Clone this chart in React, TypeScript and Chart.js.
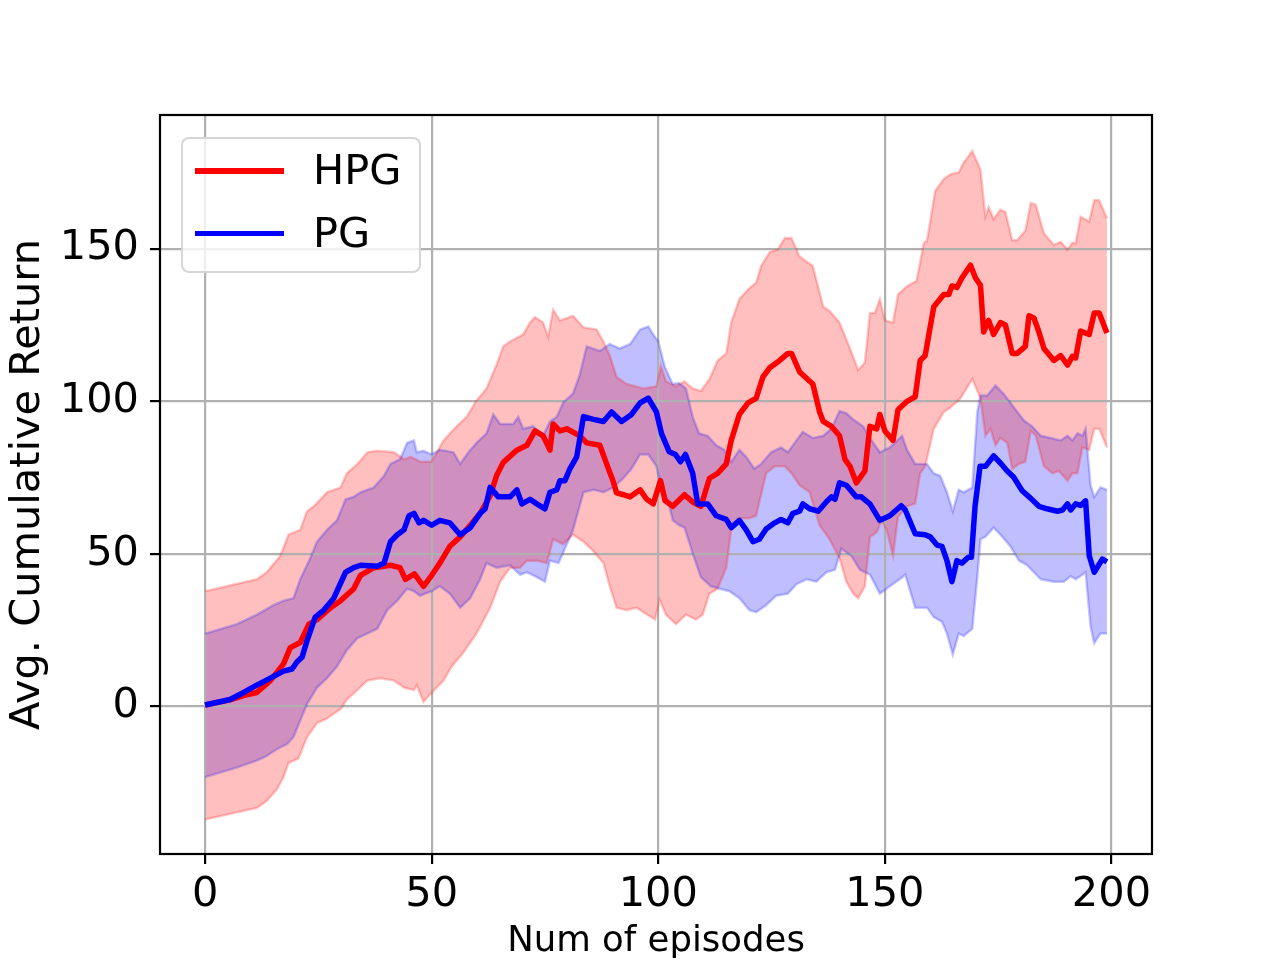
import React, { useEffect, useRef } from "react";
import { Chart, registerables } from "chart.js";

Chart.register(...registerables);

// [episode, avg. cumulative return]
const hpgMean: [number, number][] = [
  [0, 0.5], [5.5, 2.2], [8.5, 3.6], [11.4, 4.6], [14.4, 8.5], [17.3, 14], [18.8, 19.3], [21, 21],
  [22.9, 27], [24.7, 28.5], [27.7, 32.4], [29.9, 34.7], [32.8, 38.6], [34.3, 43], [37.2, 45.5],
  [40.9, 46.3], [43, 45.5], [44.2, 41.7], [46.2, 43.5], [48.2, 39.4], [50, 43], [51.8, 47], [54, 52.5],
  [56.3, 55.6], [58.5, 59.4], [60.7, 63.3], [62.9, 69], [64.3, 75.6], [65.8, 80], [68.8, 84], [71, 85.6],
  [72.8, 90.3], [74.6, 88.7], [76.1, 84], [76.8, 92.6], [78.3, 90.3], [79.8, 91], [82.7, 88.7],
  [84.2, 86.4], [87.1, 85.6], [88.6, 79.5], [90, 74], [90.8, 70], [92.3, 69.4], [93.8, 68.7], [96, 71],
  [97.4, 68], [98.9, 66.4], [100.5, 74], [101.5, 67.5], [103.2, 65.6], [105.8, 69.4], [107.6, 67],
  [109.4, 65.6], [111.3, 74.8], [113.1, 76.4], [115, 79.5], [116.1, 87.2], [117.9, 95.7], [119.8, 99.5],
  [121.6, 101], [123.1, 108], [124.6, 111], [126.8, 113.4], [128.6, 115.7], [129.4, 115.7],
  [131.2, 109.6], [134.1, 105.7], [135.6, 96.5], [136.4, 93.4], [138.2, 91.8], [140, 88.7], [141.2, 81],
  [142.3, 78.7], [143.7, 73.3], [145.6, 77.2], [146.7, 91.8], [148.2, 91], [148.9, 95.7], [150, 90.3],
  [151.8, 87.2], [152.9, 97.2], [154.9, 100], [156.7, 101.5], [157.8, 113.4], [158.9, 115], [160.8, 131],
  [163, 135], [164.1, 135], [164.8, 137.8], [165.9, 137.3], [167, 140.4], [168.9, 144.6], [170, 140.4],
  [171.1, 138], [171.8, 122.7], [172.9, 126.5], [174, 121.9], [175.5, 125.8], [176.6, 125],
  [178.1, 115.7], [179.2, 115.7], [181, 118], [181.8, 128], [182.9, 127.3], [184, 122.7], [185.1, 117.3],
  [187.3, 113.4], [188.8, 115], [190.3, 111.9], [191.4, 114.7], [192.1, 114.2], [193.2, 123],
  [195.1, 121.9], [196.2, 128.9], [197.3, 128.9], [199, 122.4],
];

const hpgHi: [number, number][] = [
  [0, 37.8], [11.4, 41.7], [13.6, 44], [16.6, 49.4], [18.4, 56.3], [21, 57.9], [22.5, 64], [24, 65.6],
  [26.9, 70.2], [29.9, 71.8], [31.3, 76.4], [33.6, 79.5], [35.8, 83.3], [38, 83.8], [41.7, 83.3],
  [43.9, 81], [45.4, 81.8], [47.6, 80.2], [50, 80.2], [52.6, 87.2], [55.5, 91.8], [57.7, 94.9],
  [59.9, 100.3], [62.1, 104.2], [64.3, 111.9], [65.8, 118], [67.3, 119.6], [70.2, 121.9], [71.7, 125.8],
  [72.8, 127.6], [74.6, 125.8], [75.7, 121.1], [76.8, 130], [78.3, 126.5], [81.2, 128], [83.5, 124.2],
  [86.4, 123.5], [87.9, 119.6], [89.3, 115], [90.8, 108], [93, 105.7], [96.7, 104.2], [99.6, 104.9],
  [100.6, 111.5], [101.7, 106.5], [103.9, 104.9], [105.8, 106.5], [107.6, 104.2], [109.4, 103.4],
  [111.3, 107.3], [113.1, 113.4], [115, 115.7], [116.1, 125.8], [117.9, 133.5], [119.8, 136.6],
  [121.6, 138.9], [122.7, 144.3], [124.6, 148.9], [126.4, 149.7], [127.9, 153.5], [129.4, 153.5],
  [131.2, 147.4], [134.1, 144.3], [136.4, 131], [137.8, 129.6], [140, 125.8], [142.3, 117.3],
  [144.1, 110.3], [145.6, 112.7], [146.7, 128.9], [147.8, 128.9], [148.9, 133.5], [150, 126.5],
  [151.8, 125.8], [152.9, 135], [154.8, 137.6], [157, 139.5], [158.6, 151.9], [159.3, 152.6],
  [161.1, 168.9], [163, 172.8], [164.5, 174.4], [166.3, 175], [167.4, 178.2], [169.3, 182],
  [171.1, 175.9], [172.2, 160.5], [172.9, 163.6], [174, 159.7], [175.5, 162.8], [176.6, 162],
  [178.1, 152.8], [179.2, 152.8], [181, 155.9], [182.2, 165], [183.3, 164.4], [185.1, 155],
  [187.3, 151.2], [188.8, 152.3], [190.3, 149.7], [191.4, 152], [192.1, 151.7], [193.2, 160.5],
  [195.1, 158.9], [196.2, 165.9], [197.3, 165.9], [199, 160],
];

const hpgLo: [number, number][] = [
  [0, -37], [11.4, -33.2], [13.6, -30.9], [15.9, -27], [17.3, -23.1], [18.4, -18.5], [20.6, -17],
  [22.5, -10], [24.7, -5.4], [26.9, -3.9], [29.9, -0.8], [31.3, 2.3], [33.6, 5.4], [35.8, 8.5],
  [38.7, 9.3], [41.7, 8.5], [43.9, 6.2], [46.1, 5.4], [46.7, 7], [48.2, 1.5], [50, 4.6], [52.6, 8.5],
  [54.4, 13.1], [57, 17.7], [59.9, 23.9], [62.9, 32.4], [65.1, 40.9], [67.3, 45.5], [69.5, 45.5],
  [71, 47.8], [73.2, 47.8], [75.4, 47], [76.8, 54.8], [79, 53.2], [81.2, 56.3], [83.5, 54], [85.7, 50.9],
  [87.9, 47], [89.3, 39.4], [90.8, 32.4], [93, 31.6], [95.2, 32.4], [96.7, 30.9], [99.3, 28.5],
  [100.3, 35], [101.7, 30.1], [103.9, 27], [106.1, 30.1], [108.3, 28.5], [109.8, 30.1], [111.3, 37],
  [113.1, 38.6], [115, 45.5], [116.1, 57.9], [117.9, 61.7], [120.1, 61.7], [121.6, 62.5], [123.8, 76.4],
  [125.7, 78.7], [127.9, 78.7], [129.4, 76.4], [131.2, 72.5], [133.4, 70.2], [135.6, 59.4],
  [137.8, 54.8], [140, 48.6], [141.5, 40.9], [143, 37], [144.1, 35.5], [145.6, 39.4], [146.7, 55.6],
  [148.2, 57.1], [149.3, 61], [150.4, 57.9], [151.8, 49.4], [152.9, 62], [154.8, 65.6], [156.7, 66.5],
  [157.8, 76.4], [158.9, 78.7], [160.8, 91], [163, 96.5], [164.5, 98], [166.7, 101], [169.3, 107.3],
  [171.1, 101], [172.2, 88.7], [173.3, 91], [174.4, 85.6], [175.5, 88], [177, 86.4], [178.1, 77.9],
  [179.6, 79.5], [181, 80.2], [182.2, 90.3], [183.3, 88.7], [185.1, 78.7], [187, 76.4], [188.4, 77.2],
  [190.3, 74], [191.4, 76.4], [192.5, 76.4], [193.6, 84.9], [195.1, 84.1], [196.2, 91], [197.3, 91],
  [199, 84.9],
];

const pgMean: [number, number][] = [
  [0, 0.5], [5.5, 2.3], [8.5, 4.6], [11.4, 7], [14.4, 9.3], [17.3, 11.6], [19.2, 12.3], [20.3, 14.7],
  [21.4, 16.2], [22.5, 21.6], [24.3, 29.3], [26.2, 31.6], [28.4, 35.5], [31, 44], [32.8, 45.5],
  [34.3, 46.3], [38, 46], [39.5, 47], [40.9, 54], [42.4, 56.3], [43.9, 57.9], [45, 62.5], [46.1, 63.3],
  [47.2, 60.2], [48.2, 61], [50, 59.4], [51.8, 61], [54, 60.2], [56.3, 56.3], [58.5, 58.6], [60.7, 63.3],
  [61.8, 64.8], [62.9, 71.8], [64.7, 68.7], [67.3, 68.7], [68.8, 71], [69.9, 66.4], [71.7, 67.9],
  [73.2, 66.4], [75, 64.8], [76.1, 70.2], [77.6, 71], [78.3, 74], [79.4, 74], [80.5, 77.9], [82, 81.8],
  [83.5, 95], [85.7, 94.1], [87.9, 93.4], [89.7, 96.5], [91.9, 93.4], [94.1, 95.7], [96, 99.5],
  [97.8, 101], [99.6, 96.5], [100.7, 89.5], [102.4, 83.5], [103.8, 82.6], [104.9, 80.2], [106, 82.6],
  [107.6, 76.4], [108.7, 66.4], [110.9, 66.4], [112.8, 62.5], [115, 61.3], [116.1, 58.6], [117.9, 61],
  [119.4, 57.9], [120.9, 54], [122.3, 54.8], [123.8, 58.2], [125.7, 60.2], [127.1, 61.3], [128.6, 60.2],
  [129.7, 63.3], [131.2, 64], [131.9, 66.4], [133.4, 64.8], [135.3, 64], [137.1, 67.1], [138.2, 68.7],
  [139, 67.9], [140, 73.3], [141.5, 72.5], [143.7, 68.7], [144.8, 68.7], [146.7, 66.4], [148.9, 61],
  [151.1, 62.5], [153.6, 65.8], [154.5, 64.4], [156.7, 56.6], [158.9, 56.3], [160, 55.6], [161.5, 52.9],
  [162.6, 52.5], [163.7, 47.8], [164.8, 40.9], [165.9, 47.8], [167, 47], [168.4, 48.9], [169.1, 48.9],
  [169.9, 65.6], [171, 78.7], [172.2, 78.7], [174, 82.1], [175.5, 79.8], [177, 77.2], [178.4, 75.2],
  [180.3, 70.7], [182.2, 68.2], [184, 65.6], [185.8, 64.8], [188.1, 64], [189.2, 64.4], [190.3, 66.4],
  [191, 64.4], [192.1, 66.4], [193.2, 65.9], [194.3, 67.4], [195.1, 49.4], [196.2, 44], [198, 48.3],
  [199, 47.4],
];

const pgHi: [number, number][] = [
  [0, 23.9], [7, 27], [11.4, 30.1], [15.1, 33.2], [17.3, 34.7], [19.5, 35.5], [21, 41.7], [23.2, 48.6],
  [24.7, 54], [26.9, 57.9], [29.1, 61], [31, 67.9], [32.8, 68.7], [34.3, 70.2], [37.2, 71.8],
  [39.5, 75.6], [40.9, 79.5], [43, 81], [44.6, 86.4], [46.1, 87.2], [46.7, 83.3], [48.2, 83.8],
  [50, 82.6], [51.8, 84.1], [54.8, 83.3], [56.3, 79.5], [58.1, 83.3], [59.9, 86.4], [62.1, 89.5],
  [63.6, 95.7], [65.1, 92.6], [68, 92.6], [69.1, 94.9], [70.2, 91], [72.4, 91.8], [74.6, 88.7],
  [76.1, 93.4], [77.6, 94.9], [79, 99.5], [81.2, 102.6], [82.7, 108.8], [84.2, 118], [87.1, 116.5],
  [89.3, 118.8], [91.5, 117.3], [93.8, 118.8], [96, 123.5], [97.8, 124.5], [98.9, 121.9], [100, 119.6],
  [101.5, 111], [103.2, 105.7], [104.6, 106], [106.1, 104.2], [107.6, 94.9], [109, 89.5], [110.9, 88.7],
  [112.8, 85.6], [114.6, 84.1], [116.1, 80.2], [117.9, 84.1], [119.4, 81.8], [121.2, 77.9],
  [122.7, 79.5], [124.9, 83.3], [127.1, 84.9], [128.6, 83.3], [130.5, 87.2], [131.9, 90], [134.1, 88],
  [136.4, 88.7], [138.2, 91], [140, 96.8], [141.5, 96.1], [143, 94.1], [145.2, 91.8], [146.7, 88],
  [148.9, 83.3], [151.1, 84.9], [153.8, 88.7], [154.9, 84.1], [156.7, 79.5], [159.3, 79.5],
  [160.8, 76.4], [162.2, 75.6], [163.7, 70.2], [165, 64], [166.3, 71], [167.4, 70.2], [169.3, 71.8],
  [170.4, 96.5], [171.1, 101.9], [172.6, 101.9], [174.4, 105.2], [176.3, 102.3], [178.5, 98],
  [180.7, 93.7], [182.5, 91.8], [184.4, 88.7], [186.6, 88], [188.8, 87.2], [190.3, 88.7], [191.4, 87.2],
  [192.5, 89.5], [193.6, 88.7], [194.3, 91], [195.4, 72.5], [196.2, 68.7], [197.6, 71.8], [199, 71],
];

const pgLo: [number, number][] = [
  [0, -23.1], [7, -20], [11.4, -17.7], [13.6, -16.2], [15.9, -13.9], [18.1, -12.3], [19.5, -10],
  [21, -4.6], [22.5, 0.8], [24.7, 6.2], [26.9, 9.3], [29.1, 13.1], [31.3, 18.5], [33.6, 22.4],
  [35.8, 23.9], [38, 25.5], [40.2, 31.6], [42.4, 34.7], [44.6, 38.6], [46.1, 37.8], [47.4, 36.3],
  [50, 37.8], [51.8, 39.4], [54, 37], [56.3, 32.4], [58.5, 35.5], [60.7, 41.7], [62.1, 47], [64.3, 45.5],
  [67.3, 46.3], [69.5, 43.2], [71, 44], [73.2, 42.4], [75, 40.9], [76.1, 47.8], [78, 47], [79.4, 51.7],
  [81.2, 57.9], [83.5, 70.2], [85.7, 71], [87.9, 70.2], [90.1, 71.8], [92.3, 74.8], [94.1, 77.9],
  [96, 82.6], [97.8, 82.6], [99.6, 78.7], [100.7, 71.5], [102.2, 67.1], [103.2, 61], [104.6, 59.4],
  [105.8, 58.6], [107.6, 50.2], [109.4, 42.4], [111.6, 39.4], [113.5, 38.6], [115.7, 37.8],
  [117.9, 35.5], [120.1, 31.6], [121.6, 30.9], [123.8, 33.2], [126, 36.3], [128.6, 37], [130.5, 40.1],
  [132.7, 41.7], [134.9, 40.9], [137.1, 44], [139, 44.8], [140.4, 51.7], [142.6, 49.4], [144.5, 44.8],
  [146.7, 43.2], [148.9, 37], [151.1, 39.4], [153.6, 42], [154.5, 43.2], [156.7, 32.4], [159.3, 32.4],
  [160.8, 29.3], [162.6, 27.8], [163.7, 23.9], [165, 17], [166.3, 23.9], [167.4, 23.1], [169.3, 25.5],
  [170.4, 42.4], [171.1, 54.8], [172.2, 55.6], [174, 58.6], [175.5, 56.3], [177.7, 52.5], [179.6, 47.8],
  [181.4, 46.3], [184.4, 41.7], [187.3, 40.9], [189.5, 40.9], [191, 42.7], [192.1, 41.7], [193.6, 43.2],
  [194.3, 44], [195.4, 26.2], [196.2, 20.8], [197.6, 23.9], [199, 23.9],
];

const xTicks = [0, 50, 100, 150, 200];
const yTicks = [0, 50, 100, 150];
const seriesNames = ["HPG", "PG"];

const FONT = "'DejaVu Sans', sans-serif";

const toXY = (pts: [number, number][]) => pts.map(([x, y]) => ({ x, y }));

// black box round the plot area, like matplotlib spines
const framePlugin = {
  id: "frame",
  afterDraw(chart: any) {
    const { ctx, chartArea: a } = chart;
    ctx.save();
    ctx.strokeStyle = "#000";
    ctx.lineWidth = 2.2;
    ctx.strokeRect(a.left, a.top, a.right - a.left, a.bottom - a.top);
    ctx.restore();
  },
};

const App: React.FC = () => {
  const canvasRef = useRef<HTMLCanvasElement | null>(null);

  useEffect(() => {
    if (!canvasRef.current) return;
    const ctx = canvasRef.current.getContext("2d");
    if (!ctx) return;

    const band = (color: string) => ({
      borderColor: color,
      borderWidth: 2.5,
      pointRadius: 0,
      tension: 0,
    });

    const chart = new Chart(ctx, {
      type: "line",
      data: {
        datasets: [
          {
            label: seriesNames[1],
            data: toXY(pgMean),
            borderColor: "#0000ff",
            borderWidth: 5.5,
            pointRadius: 0,
            borderJoinStyle: "round",
            fill: false,
          },
          {
            label: seriesNames[0],
            data: toXY(hpgMean),
            borderColor: "#ff0000",
            borderWidth: 5.5,
            pointRadius: 0,
            borderJoinStyle: "round",
            fill: false,
          },
          {
            label: "HPG upper",
            data: toXY(hpgHi),
            ...band("rgba(255,0,0,0.22)"),
            backgroundColor: "rgba(255,0,0,0.25)",
            fill: "+1",
          },
          { label: "HPG lower", data: toXY(hpgLo), ...band("rgba(255,0,0,0.22)"), fill: false },
          {
            label: "PG upper",
            data: toXY(pgHi),
            ...band("rgba(0,0,255,0.22)"),
            backgroundColor: "rgba(0,0,255,0.25)",
            fill: "+1",
          },
          { label: "PG lower", data: toXY(pgLo), ...band("rgba(0,0,255,0.22)"), fill: false },
        ],
      },
      options: {
        animation: false,
        responsive: true,
        maintainAspectRatio: false,
        layout: { padding: { top: 115, right: 128, left: 0, bottom: 0 } },
        plugins: {
          legend: { display: false },
          tooltip: { enabled: false },
          filler: { drawTime: "beforeDraw" },
        },
        scales: {
          x: {
            type: "linear",
            min: -9.95,
            max: 208.95,
            afterBuildTicks: (axis: any) => {
              axis.ticks = xTicks.map((v) => ({ value: v }));
            },
            afterFit: (axis: any) => {
              axis.height = 106;
            },
            grid: {
              color: "#b0b0b0",
              lineWidth: 2.2,
              tickColor: "#000",
              tickWidth: 2.2,
              tickLength: 10,
            },
            border: { display: false },
            ticks: {
              color: "#000",
              padding: 6,
              maxRotation: 0,
              font: { family: FONT, size: 41.5 },
            },
            title: {
              display: true,
              text: "Num of episodes",
              color: "#000",
              padding: { top: 0, bottom: 0 },
              font: { family: FONT, size: 35.5, lineHeight: 1.0 },
            },
          },
          y: {
            type: "linear",
            min: -48.3,
            max: 193.8,
            afterBuildTicks: (axis: any) => {
              axis.ticks = yTicks.map((v) => ({ value: v }));
            },
            afterFit: (axis: any) => {
              axis.width = 160;
            },
            grid: {
              color: "#b0b0b0",
              lineWidth: 2.2,
              tickColor: "#000",
              tickWidth: 2.2,
              tickLength: 10,
            },
            border: { display: false },
            ticks: {
              color: "#000",
              padding: 11,
              font: { family: FONT, size: 41.5 },
            },
            title: {
              display: true,
              text: "Avg. Cumulative Return",
              color: "#000",
              padding: { top: 3, bottom: 0 },
              font: { family: FONT, size: 41.5, lineHeight: 1.2 },
            },
          },
        },
      },
      plugins: [framePlugin],
    });

    return () => {
      chart.destroy();
    };
  }, []);

  const legendText: React.CSSProperties = {
    position: "absolute",
    left: 313,
    fontFamily: FONT,
    fontSize: 41.5,
    lineHeight: "41.5px",
    color: "#000",
    whiteSpace: "nowrap",
  };

  return (
    <div style={{ position: "fixed", left: 0, top: 0, width: 1280, height: 960, background: "#fff" }}>
      <canvas ref={canvasRef}></canvas>
      <div
        style={{
          position: "absolute",
          left: 181,
          top: 137,
          width: 240,
          height: 136,
          boxSizing: "border-box",
          border: "2.8px solid rgba(204,204,204,0.8)",
          borderRadius: 8,
          background: "rgba(255,255,255,0.8)",
        }}
      ></div>
      <div style={{ position: "absolute", left: 195, top: 168, width: 89, height: 5.5, background: "#ff0000" }}></div>
      <div style={{ position: "absolute", left: 195, top: 230.5, width: 89, height: 5.5, background: "#0000ff" }}></div>
      <span style={{ ...legendText, top: 149.2 }}>{seriesNames[0]}</span>
      <span style={{ ...legendText, top: 212.2 }}>{seriesNames[1]}</span>
    </div>
  );
};

export default App;
